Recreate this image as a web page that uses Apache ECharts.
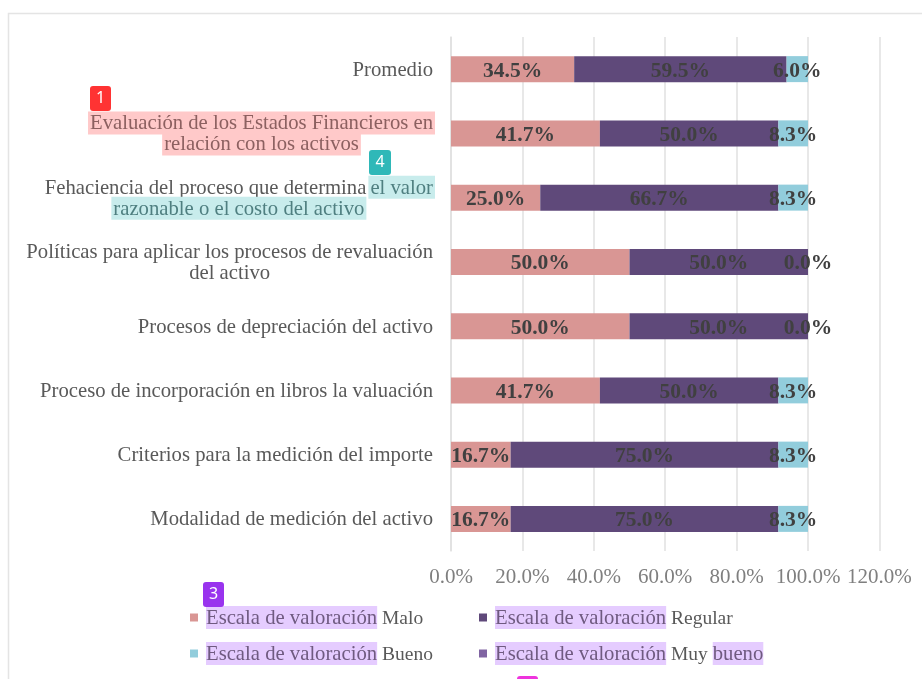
<!DOCTYPE html>
<html><head><meta charset="utf-8">
<style>html,body{margin:0;padding:0;background:#fff;overflow:hidden}#c{width:922px;height:679px}</style>
<script src="https://cdn.jsdelivr.net/npm/echarts@6/dist/echarts.min.js"></script>
</head><body><div id="c"></div>
<script>
const categories = [
  "Modalidad de medición del activo",
  "Criterios para la medición del importe",
  "Proceso de incorporación en libros la valuación",
  "Procesos de depreciación del activo",
  "Políticas para aplicar los procesos de revaluación\ndel activo",
  "Fehaciencia del proceso que determina el valor\nrazonable o el costo del activo",
  "Evaluación de los Estados Financieros en\nrelación con los activos",
  "Promedio"
];
const malo    = [16.7, 16.7, 41.7, 50.0, 50.0, 25.0, 41.7, 34.5];
const regular = [75.0, 75.0, 50.0, 50.0, 50.0, 66.7, 50.0, 59.5];
const bueno   = [8.3, 8.3, 8.3, 0.0, 0.0, 8.3, 8.3, 6.0];
const muyBueno = [0, 0, 0, 0, 0, 0, 0, 0];
const xTicks = {min: 0, max: 120, step: 20};
const seriesPrefix = "Escala de valoración";

const FONT = '"Liberation Serif", serif';
const TEXT = '#595959';
const FS = 20.7;

function hl(style, s) { return '{' + style + '|' + s + '}'; }
function catLabel(v) {
  const p = v.split('\n');
  if (v.startsWith('Evaluación')) {
    return hl('red', p[0]) + '\n' + hl('red', p[1]);
  }
  if (v.startsWith('Fehaciencia')) {
    return hl('plain', 'Fehaciencia del proceso que determina') + hl('teal', 'el valor') + '\n' + hl('teal', p[1]);
  }
  return p.map(l => hl('plain', l)).join('\n');
}
const richBase = {fontFamily: FONT, fontSize: FS, lineHeight: 21, height: 21, align: 'center', padding: [2, 2, 0, 2]};
const legendRich = {
  gap: {width: 3, height: 21, fontSize: 4},
  purple: {fontFamily: FONT, fontSize: FS, lineHeight: 21, height: 21, padding: [2, 0, 0, 0], color: '#6f5a80', backgroundColor: '#e5ccff'},
  plain:  {fontFamily: FONT, fontSize: 19.5, lineHeight: 21, height: 21, padding: [2, 0, 0, 0], color: TEXT}
};
function legendFmt(name) {
  const rest = name.slice(seriesPrefix.length);
  if (rest.includes('bueno')) {
    return hl('gap', ' ') + hl('purple', seriesPrefix) + hl('plain', ' Muy ') + hl('purple', 'bueno');
  }
  return hl('gap', ' ') + hl('purple', seriesPrefix) + hl('plain', rest);
}
const names = ['Malo', 'Regular', 'Bueno', 'Muy bueno'].map(s => seriesPrefix + ' ' + s);
const labelCommon = {
  show: true, position: 'inside', offset: [0, 2], color: '#404040', fontFamily: FONT, fontWeight: 'bold', fontSize: 21.5,
  formatter: p => p.value.toFixed(1) + '%'
};
function bar(name, data, color, label) {
  return {
    name, type: 'bar', stack: 'a', data, barWidth: 26,
    itemStyle: {color}, label: label ? labelCommon : {show: false},
    emphasis: {disabled: true}, z: 2
  };
}
function badge(x, y, w, h, color, txt) {
  return [
    {type: 'rect', x, y, shape: {x: 0, y: 0, width: w, height: h, r: 3}, style: {fill: color}, z: 20},
    {type: 'text', x: x + w / 2, y: y + h / 2, style: {text: txt, fill: '#fff', font: '16px "Noto Sans"', align: 'center', verticalAlign: 'middle'}, z: 21}
  ];
}
const chart = echarts.init(document.getElementById('c'), null, {renderer: 'canvas'});
const legendBase = {orient: 'vertical', top: 606, padding: 0, itemWidth: 8, itemHeight: 8, itemGap: 13, icon: 'rect', selectedMode: false,
  formatter: legendFmt, textStyle: {rich: legendRich, fontFamily: FONT, fontSize: FS, color: TEXT}};
chart.setOption({
  animation: false,
  backgroundColor: '#fff',
  grid: {left: 451, top: 37, width: 428.4, height: 514, containLabel: false},
  xAxis: {
    type: 'value', min: xTicks.min, max: xTicks.max, interval: xTicks.step,
    axisLine: {show: false}, axisTick: {show: false},
    splitLine: {show: true, lineStyle: {color: '#e0e0e0', width: 1.5}},
    axisLabel: {color: '#7f7f7f', fontFamily: FONT, fontSize: 21, margin: 16, formatter: v => v.toFixed(1) + '%'}
  },
  yAxis: {
    type: 'category', data: categories,
    axisLine: {show: true, lineStyle: {color: '#e0e0e0', width: 1.5}}, axisTick: {show: false},
    axisLabel: {
      margin: 16, color: TEXT, fontFamily: FONT, fontSize: FS, lineHeight: 23, interval: 0, align: 'right',
      formatter: catLabel,
      rich: {
        plain: Object.assign({color: TEXT}, richBase),
        red: Object.assign({color: '#8c6060', backgroundColor: '#ffc9c9'}, richBase),
        teal: Object.assign({color: '#4f7f80', backgroundColor: '#c8ecec'}, richBase)
      }
    }
  },
  legend: [
    Object.assign({left: 190, data: [names[0], names[2]]}, legendBase),
    Object.assign({left: 479, data: [names[1], names[3]]}, legendBase)
  ],
  series: [
    bar(names[0], malo, '#D99694', true),
    bar(names[1], regular, '#5F497A', true),
    bar(names[2], bueno, '#92CDDC', true),
    bar(names[3], muyBueno, '#8064A2', false)
  ],
  graphic: {elements: [
    {type: 'rect', x: 8.5, y: 13.5, shape: {x: 0, y: 0, width: 1000, height: 1000}, style: {fill: 'none', stroke: '#e4e4e4', lineWidth: 1.5}, silent: true, z: 0}
  ].concat(
    badge(90, 86, 21, 25, '#ff3333', '1'),
    badge(369, 150, 22, 25, '#2fb8b8', '4'),
    badge(203, 582, 21, 25, '#9933ee', '3'),
    badge(517, 676, 21, 25, '#ee33dd', '')
  )}
});
</script></body></html>
